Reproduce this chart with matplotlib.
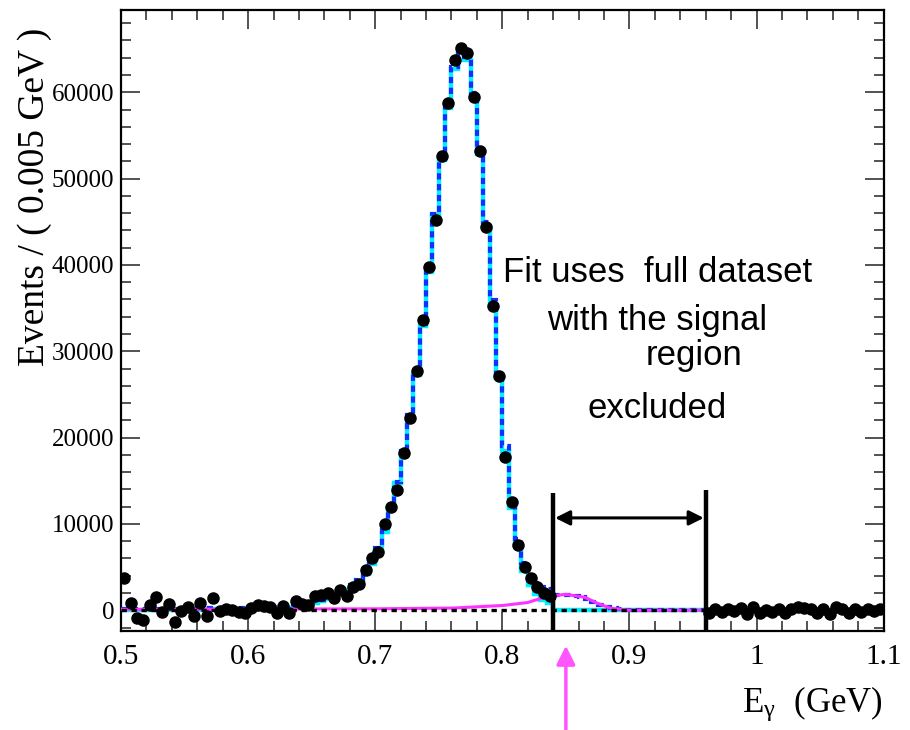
import numpy as np
import matplotlib
matplotlib.use('Agg')
import matplotlib.pyplot as plt
from matplotlib.ticker import MultipleLocator

plt.rcParams['mathtext.fontset'] = 'stix'
serif = 'Liberation Serif'
sans = 'Liberation Sans'

# binning (0.005 GeV)
edges = np.round(np.arange(0.5, 1.1001, 0.005), 4)
centers = np.round(edges[:-1] + 0.0025, 4)

# data points below the excluded region (0.5025 .. 0.8375)
counts_lo = [3700, 900, -900, -1100, 600, 1500, -200, 700, -1300, -100,
             350, -700, 900, -700, 1400, -100, 200, 0, -200, -350,
             250, 600, 500, 350, -350, 500, -350, 1100, 700, 600,
             1700, 1800, 2000, 1400, 2300, 1600, 2700, 3100, 4700, 6000,
             6700, 10000, 12000, 13900, 18200, 22300, 27700, 33600, 39800, 45200,
             52600, 58700, 63700, 65100, 64500, 59400, 53200, 44400, 35300, 27100,
             17800, 12500, 7600, 5000, 3700, 2700, 2000, 1700]
# data points above the excluded region (0.9625 .. 1.0975)
counts_hi = [-300, 100, -200, 200, -100, 300, -400, 400, -300, 0,
             -200, 200, -300, 100, 400, 300, 200, -300, 100, -400,
             400, 100, -300, 200, -200, 100, -100, 200]
count_err = 500

# peak component of the fit (cyan), bins 0.5 .. 0.84, zero above
fit_lo = [60, 60, 65, 65, 70, 70, 75, 75, 80, 80,
          85, 85, 90, 90, 95, 100, 100, 105, 110, 115,
          120, 130, 150, 170, 200, 240, 290, 360, 450, 600,
          800, 1050, 1350, 1650, 1950, 2300, 2750, 3350, 4200, 5400,
          7000, 9100, 11700, 14700, 18200, 22400, 27300, 32900, 39200, 45700,
          52200, 58200, 62700, 64700, 63700, 59500, 52900, 44500, 35400, 26900,
          18400, 11900, 7500, 4600, 2900, 1900, 1200, 800]

# signal component (magenta)
sig_x = [0.50, 0.60, 0.70, 0.76, 0.80, 0.82, 0.835, 0.85, 0.865, 0.875, 0.885, 0.90, 1.10]
sig_y = [100, 130, 170, 250, 550, 900, 1600, 1850, 1500, 800, 250, 0, 0]

# background (black dashed)
bkg_x = [0.5, 1.1]
bkg_y = [0, 0]

# excluded signal region
region = [0.84, 0.96]
region_top = [13550, 13900]
arrow_y = 10700
sig_peak = 0.85

xticks = [0.5, 0.6, 0.7, 0.8, 0.9, 1.0, 1.1]
xtick_labels = ['0.5', '0.6', '0.7', '0.8', '0.9', '1', '1.1']
yticks = [0, 10000, 20000, 30000, 40000, 50000, 60000]

n_lo = len(counts_lo)
n_hi = len(counts_hi)
x_lo = centers[:n_lo]
x_hi = centers[-n_hi:]

fit_full = np.concatenate([fit_lo, np.zeros(len(centers) - n_lo)])
sig_bins = np.interp(centers, sig_x, sig_y)
total = fit_full + sig_bins
sig_fine_x = np.linspace(0.5, 1.1, 600)
sig_fine_y = np.interp(sig_fine_x, sig_x, sig_y)

fig = plt.figure(figsize=(9.1, 7.3), dpi=100)
ax = fig.add_axes([0.133, 0.1356, 0.838, 0.8504])

ax.stairs(fit_full, edges, baseline=None, color='#00f0ff', lw=3.2, zorder=2)
ax.stairs(total, edges, baseline=None, color='#1030ff', lw=3.0,
          linestyle=(0, (1.5, 1.1)), zorder=3)
ax.plot(sig_fine_x, sig_fine_y, color='#ff33ff', lw=2.2, zorder=4)
ax.plot(bkg_x, bkg_y, color='black', lw=2.4, linestyle=(0, (1.6, 1.4)), zorder=5)

ax.errorbar(x_lo, counts_lo, yerr=count_err, fmt='o', color='black', ms=8,
            elinewidth=1.5, capsize=0, zorder=6)
ax.errorbar(x_hi, counts_hi, yerr=count_err, fmt='o', color='black', ms=8,
            elinewidth=1.5, capsize=0, zorder=6)

ax.set_xlim(0.5, 1.1)
ax.set_ylim(-2400, 69500)

# excluded region markers
ax.vlines(region, -2400, region_top, color='black', lw=3.2, zorder=7)
ax.annotate('', xy=(region[0] + 0.0015, arrow_y), xytext=(region[1] - 0.0015, arrow_y),
            arrowprops=dict(arrowstyle='<|-|>', color='black', lw=2.2,
                            mutation_scale=22, shrinkA=0, shrinkB=0), zorder=7)
ax.annotate('', xy=(sig_peak, -4100), xytext=(sig_peak, -14200),
            xycoords='data', annotation_clip=False,
            arrowprops=dict(arrowstyle='-|>', color='#ff55ff', lw=2.5,
                            mutation_scale=28, shrinkA=0, shrinkB=0))

# ROOT style axes
ax.set_xticks(xticks)
ax.set_xticklabels(xtick_labels)
ax.set_yticks(yticks)
ax.xaxis.set_minor_locator(MultipleLocator(0.02))
ax.yaxis.set_minor_locator(MultipleLocator(2000))
ax.tick_params(which='both', direction='in', top=True, right=True, color='#444444', width=1.3)
ax.tick_params(which='major', length=14)
ax.tick_params(which='minor', length=7)
ax.tick_params(axis='x', which='major', pad=9, labelsize=21)
ax.tick_params(axis='y', which='major', pad=5, labelsize=18)
for lab in ax.get_xticklabels() + ax.get_yticklabels():
    lab.set_family(serif)
for sp in ax.spines.values():
    sp.set_linewidth(1.6)

fig.text(0.038, 0.730, 'Events / ( 0.005 GeV )', rotation=90, ha='center', va='center',
         family=serif, fontsize=27)
fig.text(0.970, 0.0247, r'E$_{\mathregular{\gamma}}$  (GeV)', ha='right', va='baseline',
         family=serif, fontsize=25)

fig.text(0.723, 0.6137, 'Fit uses  full dataset', ha='center', va='baseline', family=sans, fontsize=25)
fig.text(0.722, 0.548, 'with the signal', ha='center', va='baseline', family=sans, fontsize=25)
fig.text(0.763, 0.500, 'region', ha='center', va='baseline', family=sans, fontsize=25)
fig.text(0.722, 0.4274, 'excluded', ha='center', va='baseline', family=sans, fontsize=25)

fig.savefig('out.png', dpi=100)
